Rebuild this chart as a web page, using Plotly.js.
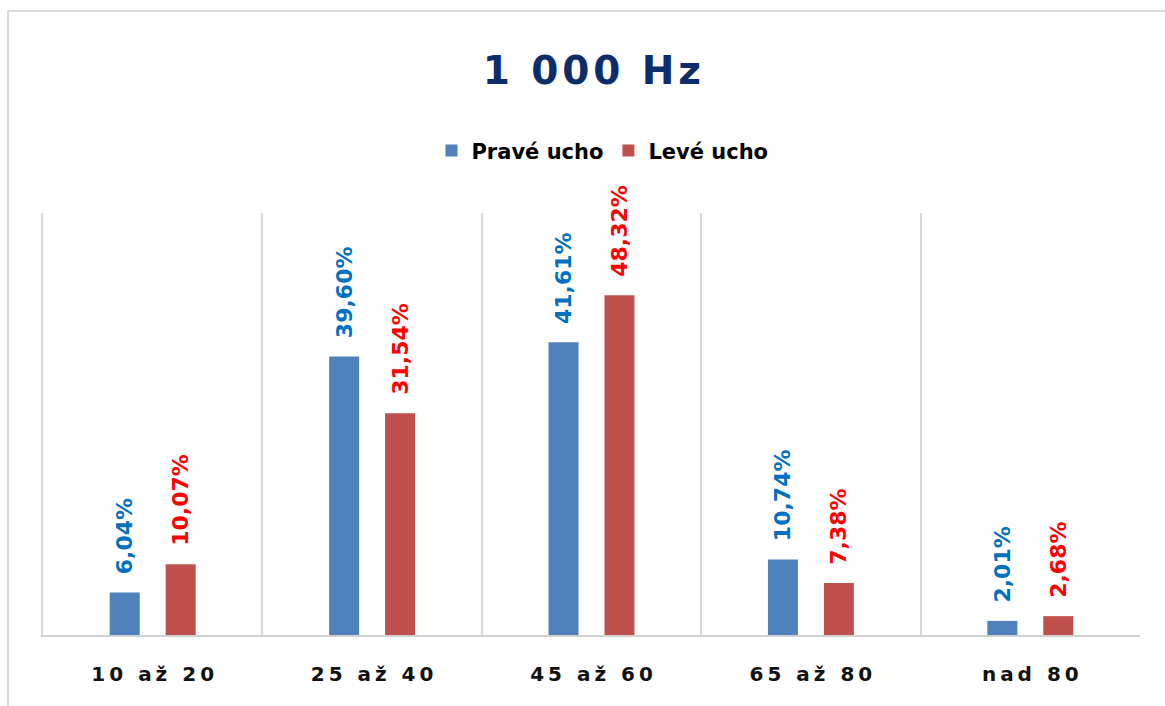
<!DOCTYPE html>
<html>
<head>
<meta charset="utf-8">
<script src="https://cdn.plot.ly/plotly-3.0.1.min.js"></script>
<style>
  html, body { margin: 0; padding: 0; background: #fff; }
  #chart { width: 1165px; height: 706px; }
  #frame { position: absolute; left: 7px; top: 10px; width: 1170px; height: 710px;
           border-left: 2px solid #D9D9D9; border-top: 2px solid #D9D9D9; pointer-events: none; }
</style>
</head>
<body>
<div id="chart"></div>
<div id="frame"></div>
<script>
const categories = ["10 až 20", "25 až 40", "45 až 60", "65 až 80", "nad 80"];
const praveUcho = [6.04, 39.60, 41.61, 10.74, 2.01];
const leveUcho = [10.07, 31.54, 48.32, 7.38, 2.68];
const seriesNames = ["Pravé ucho", "Levé ucho"];
const titleText = "1 000 Hz";

const FONT = "DejaVu Sans, Verdana, sans-serif";
const pad = "\u00A0\u00A0";
const fmt = v => pad + v.toFixed(2).replace(".", ",") + "%";
const spaced = s => s.split("").join("\u2009");
const hair = s => s.split("").join("\u200A");

const common = {
  type: "bar",
  x: categories,
  textposition: "outside",
  textangle: -90,
  cliponaxis: false,
  constraintext: "none",
  hoverinfo: "none"
};

const traces = [
  Object.assign({}, common, {
    name: seriesNames[0],
    y: praveUcho,
    text: praveUcho.map(fmt),
    marker: { color: "#4F81BD" },
    textfont: { family: FONT, size: 22, color: "#0070C0", weight: "bold" }
  }),
  Object.assign({}, common, {
    name: seriesNames[1],
    y: leveUcho,
    text: leveUcho.map(fmt),
    marker: { color: "#C0504D" },
    textfont: { family: FONT, size: 22, color: "#FF0000", weight: "bold" }
  })
];

const layout = {
  width: 1165,
  height: 706,
  paper_bgcolor: "#ffffff",
  plot_bgcolor: "#ffffff",
  margin: { l: 43, r: 25, t: 213, b: 71 },
  barmode: "group",
  bargap: 0.49,
  bargroupgap: 0.464,
  title: {
    text: "<b>" + hair(titleText) + "</b>",
    font: { family: FONT, size: 39, color: "#0C2C6A" },
    x: 0.508, xanchor: "center",
    y: 0.9, yanchor: "middle"
  },
  showlegend: true,
  legend: {
    orientation: "h",
    x: 0.51, xanchor: "center",
    y: 1.147, yanchor: "middle",
    font: { family: FONT, size: 21, color: "#000000", weight: "bold" },
    itemclick: false
  },
  xaxis: {
    type: "category",
    tickson: "boundaries",
    showgrid: true,
    gridcolor: "#D9D9D9",
    gridwidth: 2,
    showline: true,
    linecolor: "#D0D0D0",
    linewidth: 2,
    ticks: "",
    tickmode: "array",
    tickvals: categories,
    ticktext: categories.map(spaced),
    tickfont: { family: FONT, size: 20, color: "#111111", weight: "bold" },
    ticklabelstandoff: 20
  },
  yaxis: {
    range: [0, 60],
    showgrid: false,
    zeroline: false,
    showline: true,
    linecolor: "#D9D9D9",
    linewidth: 2,
    showticklabels: false,
    ticks: ""
  }
};

Plotly.newPlot("chart", traces, layout, { displayModeBar: false, staticPlot: true });
</script>
</body>
</html>
